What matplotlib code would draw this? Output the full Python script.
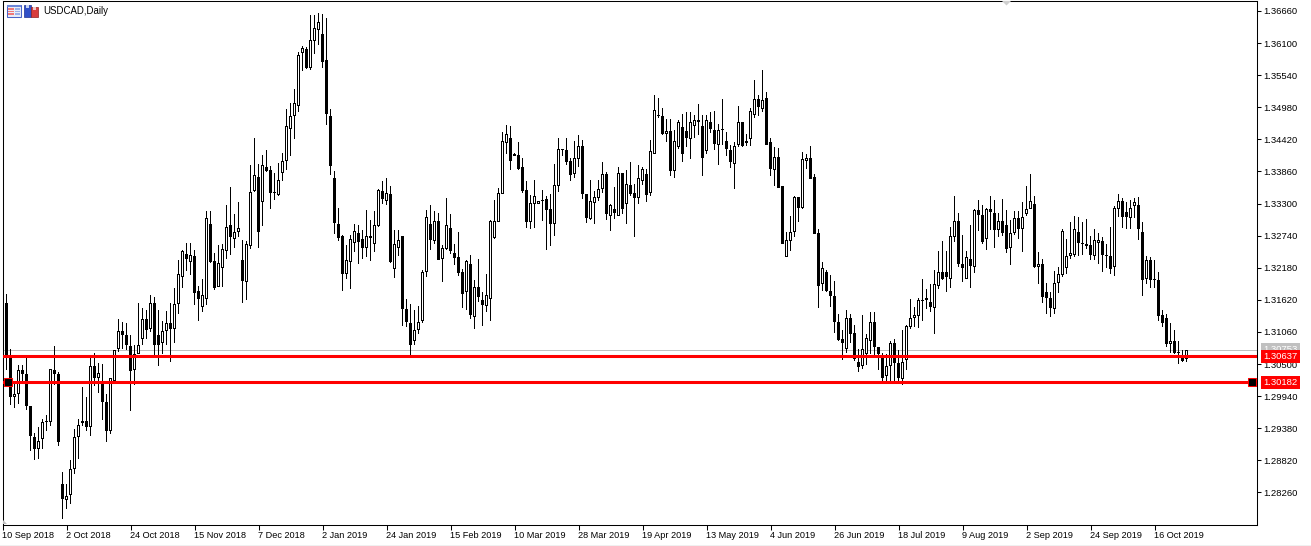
import matplotlib
matplotlib.use("Agg")
import matplotlib.pyplot as plt
from matplotlib.patches import Polygon, Rectangle
from matplotlib.transforms import blended_transform_factory


# candle values are in points above 1.3000 (1 point = 0.0001)
BASE_PRICE = 1.3

opens = [
    173, 157, 62, -8, -2, 40, 33, -23, -78, -98,
    -80, -49, -51, 40, 33, -159, -187, -178, -133, -78,
    -52, -49, -60, 47, 26, 16, -17, -67, 20, 76,
    107, 100, 82, 40, 68, 94, 128, 111, 157, 100,
    87, 108, 121, 111, 154, 202, 242, 228, 238, 177,
    150, 164, 295, 229, 185, 218, 248, 292, 269, 280,
    231, 193, 256, 352, 376, 332, 393, 388, 351, 345,
    384, 405, 460, 482, 501, 592, 599, 566, 614, 632,
    625, 580, 482, 374, 294, 273, 207, 228, 262, 279,
    269, 253, 274, 260, 291, 352, 335, 346, 216, 253,
    273, 146, 121, 90, 110, 125, 210, 295, 265, 300,
    233, 250, 288, 243, 236, 210, 175, 224, 132, 185,
    162, 152, 164, 270, 298, 347, 435, 444, 416, 414,
    393, 353, 298, 330, 330, 337, 338, 321, 295, 361,
    423, 423, 404, 382, 408, 430, 346, 303, 331, 339,
    356, 381, 309, 321, 309, 383, 330, 363, 348, 339,
    370, 382, 348, 417, 483, 482, 452, 456, 386, 429,
    463, 456, 442, 465, 472, 465, 421, 473, 459, 433,
    458, 440, 424, 399, 433, 472, 435, 443, 484, 513,
    495, 515, 437, 389, 412, 360, 237, 265, 280, 341,
    322, 405, 409, 376, 278, 189, 210, 178, 168, 124,
    93, 77, 131, 105, 54, 47, 68, 91, 124, 79,
    66, 29, 47, 86, 51, 24, 57, 115, 131, 134,
    160, 166, 159, 148, 186, 210, 210, 199, 271, 300,
    224, 199, 233, 220, 318, 310, 269, 320, 314, 284,
    300, 292, 253, 279, 304, 285, 312, 321, 330, 219,
    225, 176, 166, 146, 192, 206, 218, 239, 240, 281,
    262, 256, 257, 239, 261, 264, 238, 238, 219, 321,
    334, 315, 305, 325, 327, 281, 199, 231, 199, 197,
    135, 131, 85, 91, 70, 66, 59,
]
highs = [
    174, 173, 77, 16, 48, 48, 60, -23, -71, -60,
    -45, -39, 42, 81, 37, -138, -160, -118, -64, -45,
    10, -8, 65, 70, 51, 50, -3, 26, 75, 129,
    124, 121, 100, 83, 157, 148, 144, 170, 167, 144,
    126, 143, 156, 182, 231, 249, 262, 262, 249, 186,
    199, 317, 317, 243, 257, 259, 327, 359, 312, 333,
    266, 264, 397, 444, 399, 415, 423, 395, 383, 400,
    419, 495, 506, 530, 595, 605, 604, 659, 659, 662,
    661, 653, 495, 387, 322, 275, 257, 275, 295, 292,
    284, 318, 301, 317, 356, 370, 374, 360, 284, 284,
    274, 164, 155, 145, 152, 214, 318, 327, 317, 313,
    257, 339, 311, 260, 280, 216, 232, 241, 196, 234,
    175, 207, 302, 336, 358, 455, 467, 466, 419, 438,
    409, 370, 345, 371, 335, 353, 343, 346, 399, 444,
    424, 444, 410, 439, 449, 441, 346, 372, 352, 371,
    402, 385, 330, 359, 393, 384, 388, 402, 365, 398,
    394, 390, 441, 519, 515, 496, 477, 478, 459, 475,
    487, 490, 490, 484, 504, 484, 484, 490, 491, 469,
    512, 455, 432, 438, 500, 473, 451, 496, 545, 519,
    563, 524, 445, 428, 427, 360, 280, 309, 343, 342,
    420, 417, 430, 381, 285, 228, 214, 206, 195, 137,
    109, 144, 137, 118, 77, 135, 102, 140, 141, 80,
    70, 67, 91, 94, 74, 109, 118, 163, 149, 165,
    198, 181, 190, 214, 247, 264, 247, 289, 343, 313,
    275, 247, 292, 320, 337, 327, 323, 344, 337, 313,
    338, 318, 301, 317, 317, 332, 360, 381, 343, 245,
    234, 192, 176, 212, 220, 286, 269, 298, 308, 307,
    298, 303, 273, 286, 278, 272, 259, 289, 325, 346,
    339, 333, 336, 339, 342, 298, 238, 236, 232, 210,
    144, 137, 121, 109, 91, 75, 75,
]
lows = [
    155, 39, -22, -26, -19, 16, -31, -101, -117, -115,
    -98, -66, -58, 13, -93, -220, -202, -194, -141, -115,
    -58, -67, -76, 11, -1, -48, -86, -72, 19, 71,
    77, 74, -32, 13, 68, 83, 94, 106, 65, 47,
    68, 83, 54, 86, 138, 182, 213, 205, 153, 125,
    140, 153, 227, 179, 184, 185, 234, 240, 252, 271,
    157, 161, 250, 350, 252, 291, 385, 321, 336, 344,
    370, 388, 413, 443, 490, 562, 565, 563, 591, 607,
    567, 467, 379, 277, 265, 177, 198, 181, 245, 225,
    234, 237, 230, 246, 289, 329, 327, 227, 200, 239,
    117, 115, 65, 83, 103, 121, 202, 249, 259, 231,
    193, 249, 242, 222, 203, 147, 144, 128, 112, 158,
    116, 140, 126, 269, 298, 346, 417, 388, 413, 389,
    349, 288, 285, 287, 330, 299, 249, 256, 273, 350,
    413, 397, 370, 375, 394, 338, 296, 301, 295, 335,
    348, 302, 282, 303, 309, 311, 295, 343, 272, 329,
    362, 333, 343, 417, 480, 449, 438, 378, 375, 426,
    403, 429, 407, 444, 449, 378, 416, 453, 424, 397,
    432, 413, 392, 356, 428, 428, 430, 430, 480, 483,
    490, 432, 378, 360, 357, 260, 237, 247, 272, 298,
    321, 390, 373, 277, 148, 177, 175, 150, 104, 90,
    57, 69, 86, 55, 36, 41, 48, 67, 65, 39,
    20, 20, 20, 20, 19, 13, 39, 111, 115, 113,
    126, 146, 141, 103, 181, 196, 176, 183, 263, 220,
    193, 198, 183, 209, 282, 260, 249, 284, 253, 272,
    274, 243, 222, 275, 269, 246, 308, 320, 217, 189,
    157, 137, 132, 137, 174, 202, 208, 234, 237, 239,
    240, 251, 231, 231, 224, 211, 217, 208, 204, 307,
    288, 286, 286, 304, 267, 168, 189, 183, 182, 125,
    115, 80, 69, 68, 50, 54, 54,
]
closes = [
    155, 62, -8, -2, 40, 33, -23, -75, -98, -84,
    -51, -51, 41, 33, -86, -185, -180, -133, -78, -56,
    -49, -59, 47, 26, 34, -17, -67, 25, 75, 107,
    100, 83, 38, 68, 84, 128, 110, 157, 83, 83,
    108, 121, 111, 154, 208, 247, 234, 241, 174, 163,
    170, 304, 228, 183, 227, 250, 290, 272, 281, 287,
    195, 260, 351, 379, 281, 397, 387, 349, 349, 372,
    405, 465, 482, 505, 589, 601, 566, 616, 637, 646,
    577, 487, 396, 296, 270, 207, 232, 269, 283, 263,
    253, 274, 270, 292, 353, 338, 349, 228, 260, 267,
    146, 123, 83, 109, 124, 210, 307, 266, 299, 232,
    252, 293, 247, 235, 209, 173, 229, 135, 185, 167,
    153, 170, 299, 300, 348, 440, 452, 405, 413, 391,
    352, 298, 331, 344, 335, 335, 319, 295, 362, 426,
    423, 403, 380, 410, 430, 347, 305, 335, 342, 356,
    382, 312, 328, 314, 384, 321, 365, 347, 339, 374,
    390, 345, 421, 494, 483, 452, 456, 387, 440, 473,
    417, 445, 472, 475, 475, 410, 475, 460, 434, 458,
    458, 426, 403, 431, 472, 431, 440, 491, 513, 498,
    510, 433, 391, 412, 358, 260, 267, 280, 341, 323,
    407, 410, 373, 277, 186, 217, 178, 169, 124, 92,
    87, 131, 103, 58, 45, 77, 96, 124, 80, 67,
    26, 47, 86, 52, 25, 54, 117, 131, 136, 162,
    162, 161, 150, 189, 210, 198, 202, 274, 300, 225,
    218, 236, 221, 318, 310, 263, 321, 315, 284, 300,
    279, 251, 279, 304, 285, 307, 321, 335, 219, 225,
    167, 166, 148, 192, 208, 283, 238, 243, 286, 261,
    260, 260, 240, 267, 267, 240, 238, 216, 323, 335,
    306, 306, 323, 332, 286, 197, 232, 197, 197, 134,
    122, 85, 91, 69, 70, 55, 75,
]

date_labels = [
    "10 Sep 2018", "2 Oct 2018", "24 Oct 2018", "15 Nov 2018", "7 Dec 2018",
    "2 Jan 2019", "24 Jan 2019", "15 Feb 2019", "10 Mar 2019", "28 Mar 2019",
    "19 Apr 2019", "13 May 2019", "4 Jun 2019", "26 Jun 2019", "18 Jul 2019",
    "9 Aug 2019", "2 Sep 2019", "24 Sep 2019", "16 Oct 2019",
]
price_ticks = [
    1.36660, 1.36100, 1.35540, 1.34980, 1.34420, 1.33860, 1.33300, 1.32740,
    1.32180, 1.31620, 1.31060, 1.30500, 1.29940, 1.29380, 1.28820, 1.28260,
]
last_price = 1.30753
level_prices = [1.30637, 1.30182]

BARS_PER_LABEL = 16
WIDTH, HEIGHT = 1311, 546
FONT = "Liberation Sans"
Y_MIN, Y_MAX = 1.27701, 1.36843
PIXEL = (Y_MAX - Y_MIN) / 524  # one image pixel in price units


def price(points):
    return [BASE_PRICE + p / 10000 for p in points]


def main():
    fig = plt.figure(figsize=(WIDTH / 100, HEIGHT / 100), dpi=100, facecolor="white")
    ax = fig.add_axes([2.5 / WIDTH, 1 - 524.5 / HEIGHT, 1254 / WIDTH, 524 / HEIGHT])
    ax.set_xlim(0, 313.5)
    ax.set_ylim(Y_MIN, Y_MAX)

    o, h, l, c = price(opens), price(highs), price(lows), price(closes)
    x = list(range(len(o)))

    ax.axhline(last_price, color="#c0c0c0", lw=0.72, zorder=1)

    # wicks and bodies as edge-free bars so the columns land on whole pixels
    wick_heights = [b - a for a, b in zip(l, h)]
    ax.bar(x, wick_heights, bottom=l, width=0.25, color="black", linewidth=0, zorder=2,
           antialiased=False)
    bottoms = [min(a, b) for a, b in zip(o, c)]
    heights = [max(abs(a - b), PIXEL) for a, b in zip(o, c)]
    ax.bar(x, heights, bottom=bottoms, width=0.75, color="black", linewidth=0, zorder=3,
           antialiased=False)
    up = [i for i in x if c[i] > o[i] and heights[i] > 2 * PIXEL]
    ax.bar(up, [heights[i] - 2 * PIXEL for i in up], bottom=[bottoms[i] + PIXEL for i in up],
           width=0.25, color="white", linewidth=0, zorder=3.5, antialiased=False)

    for level in level_prices:
        ax.axhline(level, color="#ff0000", lw=2.2, zorder=4)
    for handle_x in [1.25, 312.4]:
        ax.plot(handle_x, level_prices[1], marker="s", ms=6, color="black", mec="#ff0000",
                mew=0.75, zorder=5, clip_on=False)

    ax.yaxis.tick_right()
    ax.set_yticks(price_ticks)
    ax.set_yticklabels([f"{t:.5f}" for t in price_ticks], fontsize=6.8, family=FONT)
    ax.tick_params(axis="y", length=3.2, width=0.75, pad=2)
    ax.set_xticks([i * BARS_PER_LABEL for i in range(len(date_labels))])
    ax.set_xticklabels(date_labels, fontsize=6.6, family=FONT, ha="left")
    ax.tick_params(axis="x", length=3.5, width=0.75, pad=1.5)
    for spine in ax.spines.values():
        spine.set_linewidth(0.75)

    # price tags on the right scale
    tag_trans = blended_transform_factory(ax.transAxes, ax.transData)
    tags = [(last_price, "#c0c0c0"), (level_prices[0], "#ff0000"), (level_prices[1], "#ff0000")]
    for value, colour in tags:
        ax.text(1.0055, value, f"{value:.5f}", transform=tag_trans, color="white", fontsize=6.8,
                family=FONT, va="center", ha="left", zorder=6, clip_on=False,
                bbox=dict(boxstyle="square,pad=0.22", fc=colour, ec="none"))

    # overlay in image pixels for the small terminal decorations
    top = fig.add_axes([0, 0, 1, 1], zorder=10)
    top.set_xlim(0, WIDTH)
    top.set_ylim(HEIGHT, 0)
    top.axis("off")
    top.patch.set_alpha(0)
    top.text(43, 10.5, "USDCAD,Daily", fontsize=6.9, family=FONT, va="center", ha="left")
    top.add_patch(Rectangle((6.5, 4.5), 14, 12, fc="#e8ecf8", ec="#4a64c8", lw=0.75))
    top.add_patch(Rectangle((6.5, 4.5), 14, 2.5, fc="#6c86d8", ec="none"))
    for stripe_y in [8, 10.5, 13]:
        top.add_patch(Rectangle((8, stripe_y), 5.5, 1.5, fc="#f07878", ec="none"))
        top.add_patch(Rectangle((14.5, stripe_y), 5, 1.5, fc="#9ab0e8", ec="none"))
    top.add_patch(Rectangle((24, 5), 6.5, 11.5, fc="#3050c8", ec="#203090", lw=0.5))
    top.add_patch(Rectangle((31, 7), 6.5, 9.5, fc="#d83c3c", ec="#902020", lw=0.5))
    top.add_patch(Rectangle((26, 5), 3, 3, fc="#c8d4f0", ec="none"))
    top.add_patch(Rectangle((33, 7), 3, 3, fc="#f0c8c8", ec="none"))
    top.add_patch(Polygon([(1002, 1), (1011, 1), (1006.5, 5.5)], fc="#d0d0d0", ec="none"))
    top.add_patch(Polygon([(3, 520), (3, 524), (7, 524)], fc="#c0c0c0", ec="none"))
    top.add_patch(Rectangle((0, 545), WIDTH, 1, fc="#f0f0f0", ec="none"))

    fig.savefig("out.png", dpi=100)
    plt.close(fig)


if __name__ == "__main__":
    main()
